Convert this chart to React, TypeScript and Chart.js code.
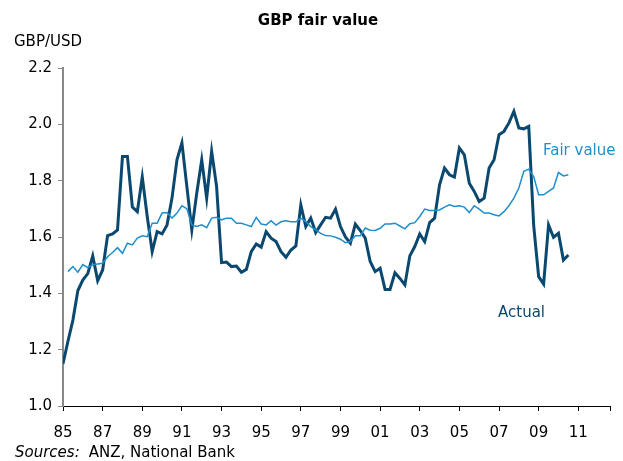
import React, { useEffect, useRef } from "react";
import { Chart, registerables } from "chart.js";

Chart.register(...registerables);

// Quarterly observations starting 1985 Q1
const startYear = 1985;
const periodsPerYear = 4;

const actual = [
  1.15, 1.23, 1.305, 1.41, 1.447, 1.47, 1.533, 1.445, 1.483, 1.605,
  1.611, 1.625, 1.886, 1.886, 1.706, 1.69, 1.813, 1.673, 1.548, 1.619,
  1.611, 1.643, 1.738, 1.874, 1.934, 1.779, 1.625, 1.756, 1.874, 1.738,
  1.904, 1.779, 1.509, 1.511, 1.495, 1.497, 1.475, 1.485, 1.548, 1.575,
  1.564, 1.619, 1.596, 1.584, 1.548, 1.528, 1.554, 1.568, 1.714, 1.637,
  1.667, 1.616, 1.643, 1.67, 1.667, 1.699, 1.637, 1.6, 1.578, 1.646,
  1.623, 1.596, 1.513, 1.477, 1.489, 1.414, 1.414, 1.473, 1.453, 1.43,
  1.533, 1.566, 1.611, 1.584, 1.651, 1.667, 1.785, 1.845, 1.821, 1.813,
  1.916, 1.892, 1.791, 1.762, 1.726, 1.738, 1.845, 1.874, 1.963, 1.975,
  2.005, 2.046, 1.987, 1.984, 1.993, 1.64, 1.459, 1.433, 1.643, 1.599,
  1.613, 1.518, 1.536,
];

const fairValue = [
  null, 1.477, 1.495, 1.475, 1.502, 1.491, 1.501, 1.504, 1.507, 1.53,
  1.545, 1.562, 1.542, 1.578, 1.572, 1.596, 1.604, 1.601, 1.649, 1.649,
  1.685, 1.687, 1.667, 1.685, 1.711, 1.7, 1.643, 1.637, 1.643, 1.633,
  1.667, 1.67, 1.661, 1.667, 1.667, 1.649, 1.649, 1.643, 1.637, 1.67,
  1.646, 1.643, 1.658, 1.642, 1.654, 1.658, 1.654, 1.654, 1.667, 1.655,
  1.637, 1.625, 1.613, 1.605, 1.604, 1.599, 1.592, 1.58, 1.584, 1.604,
  1.604, 1.632, 1.624, 1.623, 1.631, 1.646, 1.646, 1.649, 1.639, 1.629,
  1.647, 1.651, 1.673, 1.699, 1.694, 1.694, 1.696, 1.706, 1.714, 1.708,
  1.711, 1.706, 1.687, 1.711, 1.699, 1.685, 1.685, 1.679, 1.675, 1.69,
  1.711, 1.738, 1.774, 1.833, 1.841, 1.815, 1.75, 1.75, 1.762, 1.774,
  1.829, 1.817, 1.821,
];

const xTickYears = [1985, 1987, 1989, 1991, 1993, 1995, 1997, 1999, 2001, 2003, 2005, 2007, 2009, 2011];
const xAxisEnd = 2012.6;
const yMin = 1.0;
const yMax = 2.2;
const yStep = 0.2;

const ACTUAL_COLOR = "#0B4870";
const FAIR_COLOR = "#1E8FCC";
const FONT = '"DejaVu Sans", Verdana, sans-serif';

export default function App() {
  const ref = useRef<HTMLCanvasElement | null>(null);

  useEffect(() => {
    if (!ref.current) return;
    const toPoints = (arr: (number | null)[]) =>
      arr.map((v, i) => ({ x: startYear + i / periodsPerYear, y: v }));

    const textPlugin = {
      id: "texts",
      afterDraw(chart: any) {
        const ctx = chart.ctx as CanvasRenderingContext2D;
        ctx.save();
        ctx.textBaseline = "alphabetic";
        ctx.fillStyle = "#000";
        ctx.font = `bold 15px ${FONT}`;
        ctx.textAlign = "center";
        ctx.fillText("GBP fair value", 318, 25);
        ctx.textAlign = "left";
        ctx.font = `15px ${FONT}`;
        ctx.fillText("GBP/USD", 14, 46);
        ctx.font = `italic 15px ${FONT}`;
        ctx.fillText("Sources:", 15, 457);
        const w = ctx.measureText("Sources:").width;
        ctx.font = `15px ${FONT}`;
        ctx.fillText("ANZ, National Bank", 15 + w + 9, 457);
        ctx.fillStyle = FAIR_COLOR;
        ctx.fillText("Fair value", 543, 155);
        ctx.fillStyle = ACTUAL_COLOR;
        ctx.fillText("Actual", 498, 317);
        ctx.restore();
      },
    };

    const chart = new Chart(ref.current, {
      type: "line",
      data: {
        datasets: [
          {
            label: "Fair value",
            data: toPoints(fairValue),
            borderColor: FAIR_COLOR,
            borderWidth: 1.5,
            pointRadius: 0,
            tension: 0,
            spanGaps: false,
          },
          {
            label: "Actual",
            data: toPoints(actual),
            borderColor: ACTUAL_COLOR,
            borderWidth: 3,
            pointRadius: 0,
            tension: 0,
          },
        ],
      },
      options: {
        responsive: false,
        animation: false,
        layout: { padding: { top: 68, right: 12, bottom: 0, left: 0 } },
        plugins: {
          legend: { display: false },
          title: { display: false },
          tooltip: { enabled: false },
        },
        scales: {
          x: {
            type: "linear",
            min: startYear,
            max: xAxisEnd,
            afterBuildTicks(axis: any) {
              axis.ticks = [...xTickYears, xAxisEnd].map((v) => ({ value: v }));
            },
            afterFit(scale: any) {
              scale.height = 55;
            },
            grid: {
              drawOnChartArea: false,
              drawTicks: true,
              tickLength: 5,
              color: "#000",
            },
            border: { display: true, color: "#000", width: 1 },
            ticks: {
              autoSkip: false,
              maxRotation: 0,
              padding: 13,
              color: "#000",
              font: { family: FONT, size: 15 },
              callback(v: any) {
                const n = Number(v);
                if (n > 2011.5) return "";
                return String(Math.round(n) % 100).padStart(2, "0");
              },
            },
          },
          y: {
            min: yMin,
            max: yMax,
            afterFit(scale: any) {
              scale.width = 63;
            },
            grid: {
              drawOnChartArea: false,
              drawTicks: true,
              tickLength: 5,
              color: "#888",
            },
            border: { display: true, color: "#888", width: 2 },
            ticks: {
              stepSize: yStep,
              padding: 6,
              color: "#000",
              font: { family: FONT, size: 15 },
              callback(v: any) {
                return Number(v).toFixed(1);
              },
            },
          },
        },
      },
      plugins: [textPlugin],
    });
    return () => chart.destroy();
  }, []);

  return (
    <div style={{ position: "fixed", left: 0, top: 0, width: 623, height: 461, background: "#fff" }}>
      <canvas ref={ref} width={623} height={461} style={{ display: "block" }} />
    </div>
  );
}
